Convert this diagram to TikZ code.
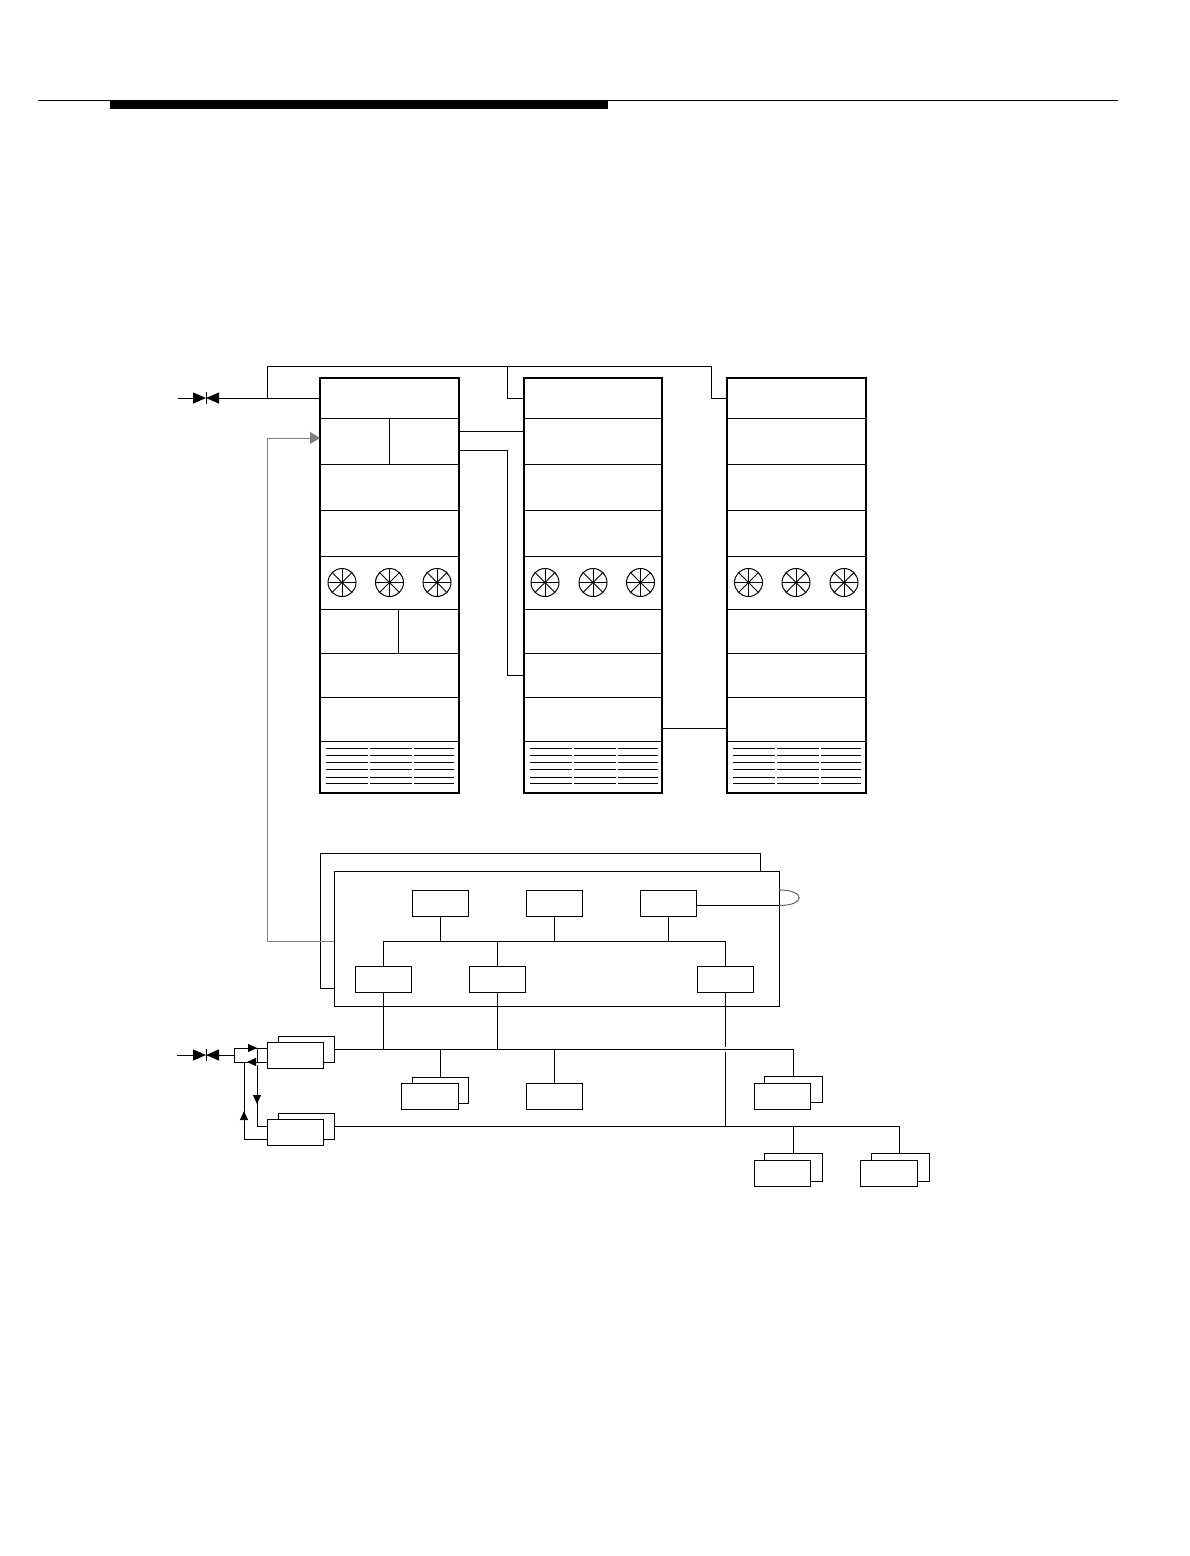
\documentclass[tikz,border=0pt]{standalone}
\usetikzlibrary{arrows.meta}

\tikzstyle{frame} = [rectangle, anchor=north west, minimum height=415pt, inner sep=0pt, outer sep=0pt, line width=2pt, draw=black]
\tikzstyle{cell} = [rectangle, anchor=north west, inner sep=0pt, outer sep=0pt, draw=black]
\tikzstyle{fan} = [circle, minimum size=28pt, inner sep=0pt, outer sep=0pt, draw=black]
\tikzstyle{unit} = [rectangle, minimum width=56.5pt, minimum height=26pt, inner sep=0pt, outer sep=0pt, draw=black, fill=white]
\tikzstyle{panel} = [rectangle, anchor=north west, inner sep=0pt, outer sep=0pt, draw=black, fill=white]
\tikzstyle{feed} = [-{Triangle[length=13pt,width=11pt]}]
\tikzstyle{small} = [-{Triangle[length=9pt,width=8pt]}]

\begin{document}
\begin{tikzpicture}[x=1pt, y=-1pt, line width=1pt]

	\useasboundingbox (0,0) rectangle (1190,1556);

	% page head
	\node (headbar) [rectangle, anchor=north west, minimum width=497.5pt, minimum height=8pt, inner sep=0pt, fill=black] at (109.5,100) {};
	\coordinate (ruleL) at (38,100.5);
	\coordinate (ruleR) at (1118,100.5);
	\draw (ruleL) -- (ruleR);

	% the three cabinets
	\foreach \cab/\xpos/\wid/\fanA/\fanB/\fanC in {a/320/139/22/69.5/117,b/524/138/21/69/116.5,c/727/139/21.5/69/117} {
		\node (\cab1) [cell, minimum width=\wid pt, minimum height=40pt] at (\xpos,378) {};
		\node (\cab2) [cell, minimum width=\wid pt, minimum height=46pt] at (\xpos,418) {};
		\node (\cab3) [cell, minimum width=\wid pt, minimum height=46pt] at (\xpos,464) {};
		\node (\cab4) [cell, minimum width=\wid pt, minimum height=46pt] at (\xpos,510) {};
		\node (\cab5) [cell, minimum width=\wid pt, minimum height=53pt] at (\xpos,556) {};
		\node (\cab6) [cell, minimum width=\wid pt, minimum height=44pt] at (\xpos,609) {};
		\node (\cab7) [cell, minimum width=\wid pt, minimum height=44pt] at (\xpos,653) {};
		\node (\cab8) [cell, minimum width=\wid pt, minimum height=44pt] at (\xpos,697) {};
		\node (\cab9) [cell, minimum width=\wid pt, minimum height=52pt] at (\xpos,741) {};
		\node (\cab frame) [frame, minimum width=\wid pt] at (\xpos,378) {};
		% fans
		\foreach \fanx/\fanname in {\fanA/l,\fanB/m,\fanC/r} {
			\node (\cab fan\fanname) [fan] at (\xpos+\fanx,582.5) {};
			\foreach \ang in {0,45,...,315}
				\draw (\cab fan\fanname.center) -- (\cab fan\fanname.\ang);
		}
		% grille
		\foreach \liney in {748,755,762,769,777,783} {
			\draw (\xpos+6,\liney) -- (\xpos+48,\liney);
			\draw (\xpos+50,\liney) -- (\xpos+92,\liney);
			\draw (\xpos+94,\liney) -- (\xpos+133.5,\liney);
		}
	}

	% split cells of the first cabinet
	\node (a2split) [cell, minimum width=70pt, minimum height=46pt] at (389,418) {};
	\node (a6split) [cell, minimum width=61pt, minimum height=44pt] at (398,609) {};

	% cabinet connections
	\coordinate (valveTop) at (206,392);
	\coordinate (valveBot) at (206,404);
	\coordinate (feedIn) at (178,398);
	\coordinate (feedHigh) at (267,366);
	\coordinate (riserB) at (507,366);
	\coordinate (riserC) at (711,366);
	\coordinate (riserLow) at (507,450);

	\draw [feed] (feedIn) -- (valveTop |- a1.west);
	\draw [feed] (a1.west) -- (valveTop |- a1.west);
	\draw (valveTop) -- (valveBot);
	\draw (a1.west -| feedHigh) -- (feedHigh) -- (riserC) |- (c1.west);
	\draw (riserB) |- (b1.west);
	\draw (a2split.east |- 0,431) -- (b2.west |- 0,431);
	\draw (a2split.east |- riserLow) -- (riserLow) |- (b7.west);
	\draw (b8.east |- 0,728) -- (c8.west |- 0,728);

	% controller
	\node (ctlBack) [panel, minimum width=440.5pt, minimum height=135pt] at (320,853) {};
	\node (ctlFront) [panel, minimum width=445pt, minimum height=135pt] at (334,871) {};

	\node (top1) [unit] at (440.5,903.5) {};
	\node (top2) [unit] at (554.5,903.5) {};
	\node (top3) [unit] at (668.5,903.5) {};
	\node (low1) [unit] at (383.5,979) {};
	\node (low2) [unit] at (497.5,979) {};
	\node (low3) [unit] at (725.5,979) {};

	\coordinate (ctlBus) at (383.5,941);
	\coordinate (loopTop) at (779,890);
	\coordinate (loopBot) at (779,905.5);

	\draw (low1.north) -- (ctlBus) -- (ctlBus -| low3.north) -- (low3.north);
	\draw (low2.north) -- (ctlBus -| low2.north);
	\draw (top1.south) -- (ctlBus -| top1.south);
	\draw (top2.south) -- (ctlBus -| top2.south);
	\draw (top3.south) -- (ctlBus -| top3.south);
	\draw (top3.east |- loopBot) -- (loopBot);
	\draw [black!60] (loopTop) .. controls (806,890) and (806,905.5) .. (loopBot);

	\coordinate (grayA) at (267,438);
	\draw [black!50, -{Triangle[length=10pt,width=12pt]}] (ctlFront.west |- 0,941) -| (grayA) -- (a2.west |- grayA);

	% power units
	\node (psu1b) [unit, minimum width=56pt] at (306,1049) {};
	\node (psu1) [unit, minimum width=56pt] at (295,1055) {};
	\node (psu2b) [unit, minimum width=56pt] at (306,1126) {};
	\node (psu2) [unit, minimum width=56pt] at (295,1132) {};
	\node (inlet) [rectangle, minimum width=23pt, minimum height=14pt, inner sep=0pt, outer sep=0pt, draw=black] at (245.5,1055) {};

	\coordinate (valve2Top) at (206,1049);
	\coordinate (valve2Bot) at (206,1061);
	\coordinate (feed2In) at (177,1055);
	\coordinate (downTurn) at (257,1065);
	\coordinate (upTurn) at (244,1139);

	\draw [feed] (feed2In) -- (valve2Top |- inlet.west);
	\draw [feed] (inlet.west) -- (valve2Top |- inlet.west);
	\draw (valve2Top) -- (valve2Bot);
	\draw [small] (inlet.north west) -- (inlet.north east);
	\draw (inlet.north east) -- (psu1.west |- inlet.north east);
	\draw [small] (psu1.west |- inlet.south) -- (247,1062);
	\draw [small] (downTurn) -- (257,1104);
	\draw (257,1100) |- (psu2.west |- psu2b.center);
	\draw (psu2.west |- upTurn) -| (inlet.south -| upTurn);
	\draw [small] (upTurn |- psu2.center) -- (244,1111);

	% buses
	\coordinate (busA) at (793.5,1049);
	\coordinate (busB) at (899.5,1126);
	\coordinate (gapTop) at (725.5,1047);
	\coordinate (gapBot) at (725.5,1052);

	\node (dev1b) [unit] at (440.5,1090) {};
	\node (dev1) [unit] at (430,1096) {};
	\node (dev2) [unit] at (554.5,1096) {};
	\node (dev3b) [unit, minimum width=58pt] at (793,1089.5) {};
	\node (dev3) [unit] at (782.5,1096) {};
	\node (dev4b) [unit, minimum width=58pt, minimum height=28pt] at (793,1167) {};
	\node (dev4) [unit] at (782.5,1173) {};
	\node (dev5b) [unit, minimum width=58pt, minimum height=28pt] at (900,1167) {};
	\node (dev5) [unit] at (889,1173) {};

	\draw (psu1b.east) -- (busA) -- (busA |- dev3b.north);
	\draw (psu2b.east) -- (busB) -- (busB |- dev5b.north);
	\draw (low1.south) -- (low1.south |- busA);
	\draw (low2.south) -- (low2.south |- busA);
	\draw (low3.south) -- (gapTop);
	\draw (gapBot) -- (gapBot |- busB);
	\draw (dev1b.north) -- (dev1b.north |- busA);
	\draw (dev2.north) -- (dev2.north |- busA);
	\draw (busA |- dev4b.north) -- (busA |- busB);

\end{tikzpicture}
\end{document}
